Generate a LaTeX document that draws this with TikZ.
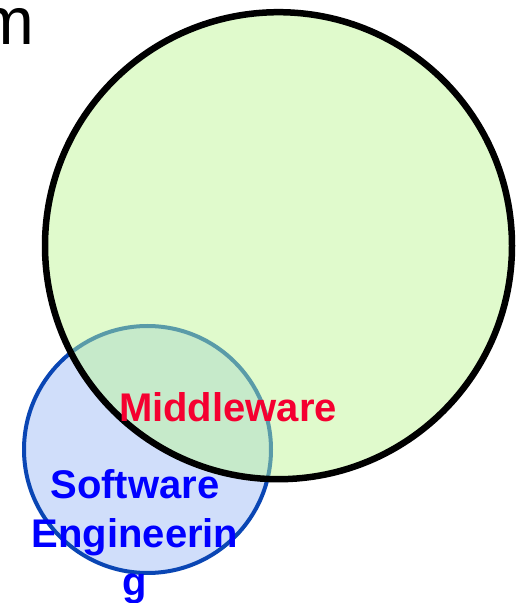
\documentclass[tikz,border=0pt]{standalone}
\usepackage{fontspec}
\setmainfont{Liberation Sans}
\definecolor{mwgreen}{RGB}{224,250,204}
\definecolor{seblue}{RGB}{208,222,250}
\definecolor{both}{RGB}{198,234,202}
\definecolor{seline}{RGB}{10,70,180}
\definecolor{mixline}{RGB}{90,155,168}
\definecolor{mwred}{RGB}{245,0,48}
\begin{document}
\begin{tikzpicture}[x=1pt,y=1pt,
  ring/.style={circle, inner sep=0pt, outer sep=0pt},
  label/.style={inner sep=0pt, font=\bfseries\fontsize{40}{49}\selectfont}]
\useasboundingbox (0,0) rectangle (524,603);
% title, cut off at the left
\node[anchor=base west, inner sep=0pt, font=\fontsize{67}{80}\selectfont] (title) at (-22,558) {m};
% software engineering circle, under the big one
\node[ring, fill=seblue, draw=seline, line width=4pt, minimum size=247pt] (se) at (147.5,153.5) {};
% middleware circle
\node[ring, fill=mwgreen, minimum size=467pt] (mw) at (278.5,357.3) {};
\begin{scope}
\clip (278.5,357.3) circle (233.5);
\fill[both] (147.5,153.5) circle (123.5);
\draw[mixline, line width=4pt] (147.5,153.5) circle (123.5);
\end{scope}
\draw[black, line width=6.5pt] (278.5,357.3) circle (233.5);
% labels
\node[label, text=mwred, anchor=base] (mwtext) at (228,181) {Middleware};
\node[label, text=blue, align=center, anchor=base] (setext) at (135,7) {Software\\Engineerin\\g};
\end{tikzpicture}
\end{document}
